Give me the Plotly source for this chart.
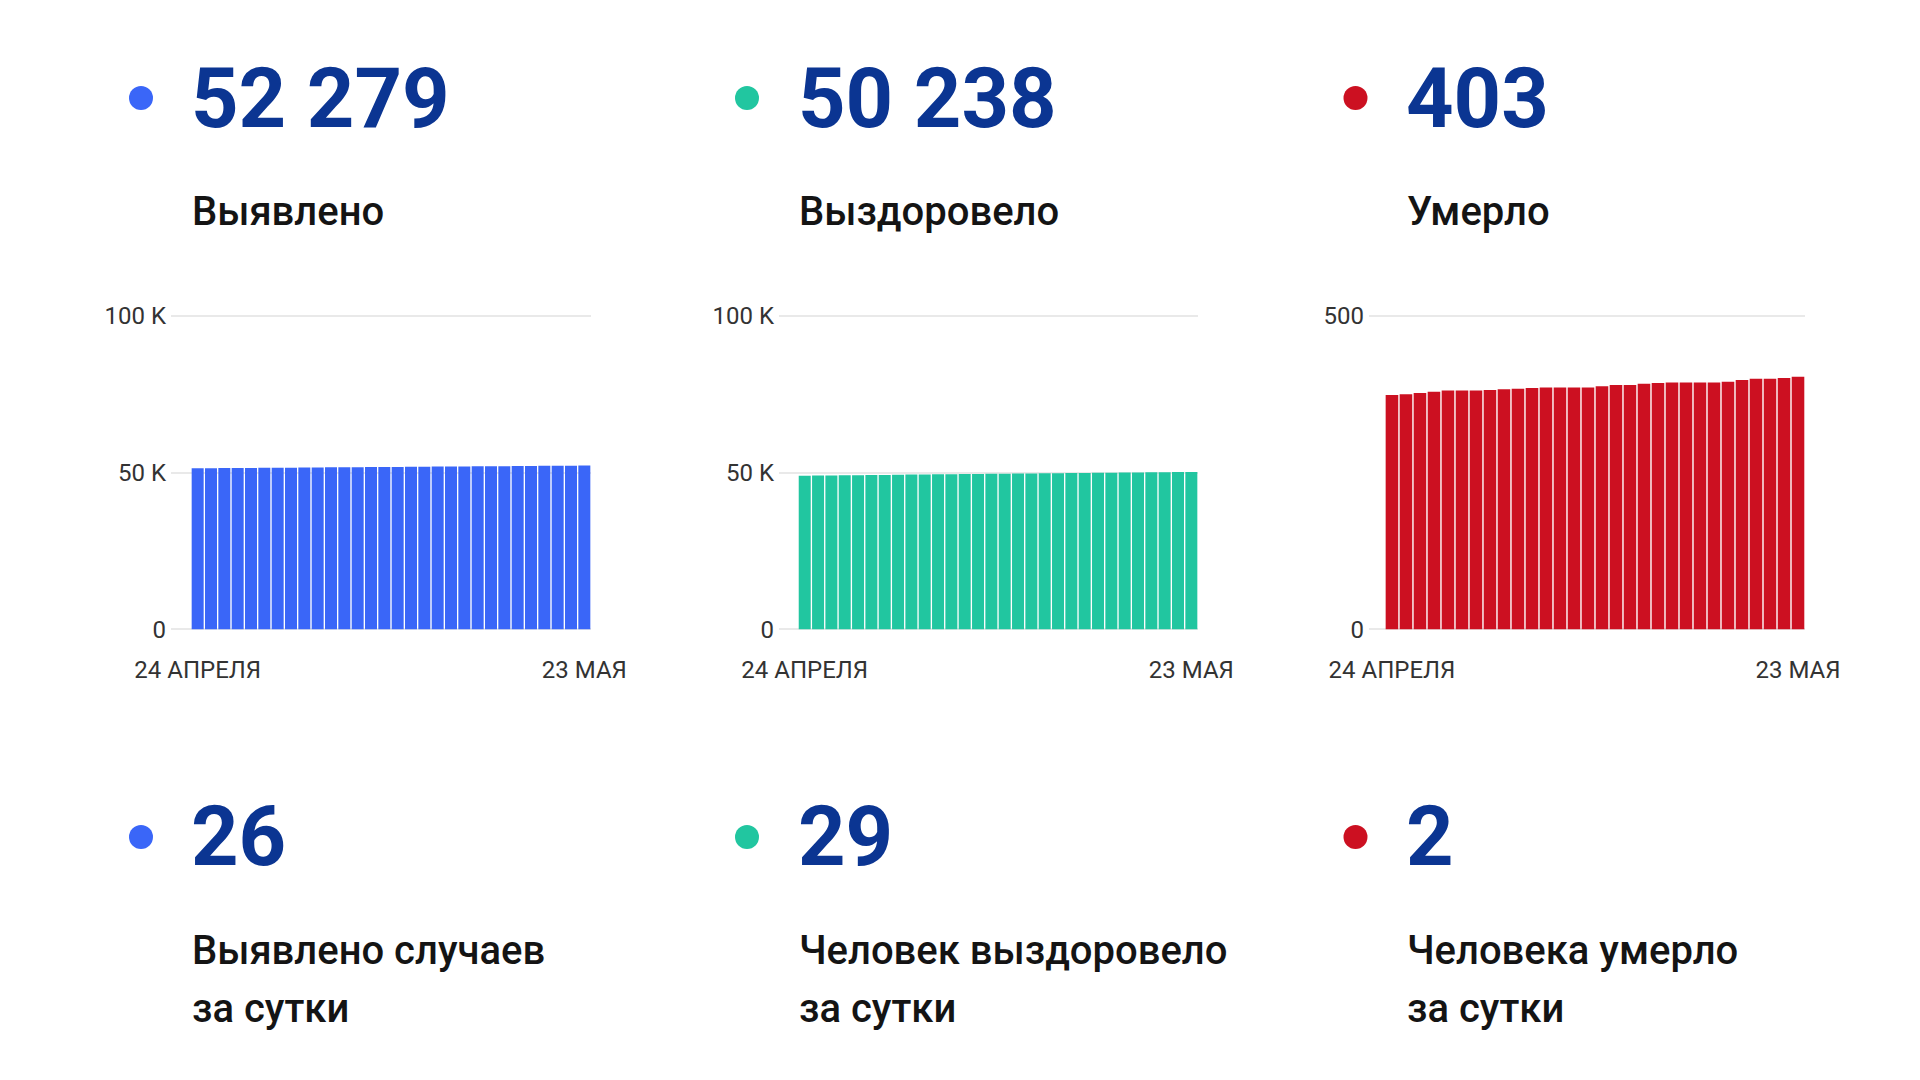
import plotly.graph_objects as go

# ---------------- data ----------------
days = [f"{d:02d}.04" for d in range(24, 31)] + [f"{d:02d}.05" for d in range(1, 24)]
tick_first, tick_last = "24 АПРЕЛЯ", "23 МАЯ"

detected = [51410, 51440, 51470, 51500, 51531, 51560, 51590, 51620, 51650, 51677,
            51707, 51738, 51768, 51797, 51828, 51857, 51887, 51916, 51948, 51978,
            52006, 52037, 52068, 52097, 52128, 52160, 52190, 52222, 52253, 52279]
recovered = [49060, 49101, 49142, 49183, 49224, 49265, 49306, 49347, 49388, 49429,
             49470, 49511, 49552, 49594, 49634, 49675, 49716, 49756, 49797, 49839,
             49880, 49920, 49962, 50003, 50044, 50085, 50128, 50170, 50209, 50238]
died = [374, 375, 377, 379, 381, 381, 381, 382, 383, 384,
        385, 386, 386, 386, 386, 388, 390, 390, 392, 393,
        394, 394, 394, 394, 395, 398, 400, 400, 401, 403]

totals = ["52 279", "50 238", "403"]
total_labels = ["Выявлено", "Выздоровело", "Умерло"]
daily = ["26", "29", "2"]
daily_line1 = ["Выявлено случаев", "Человек выздоровело", "Человека умерло"]
daily_line2 = ["за сутки", "за сутки", "за сутки"]

y_ticks_k = [0, 50000, 100000]
y_ticks_k_text = ["0", "50 K", "100 K"]
y_ticks_d = [0, 500]
y_ticks_d_text = ["0", "500"]

# ---------------- style ----------------
W, H = 1920, 1080
colors = ["#3A66F8", "#21C6A0", "#CC1021"]
NAVY = "#0B3592"
TXT = "#141414"
GRID = "#E9E9E9"
FONT = "Roboto"

def fx(x):
    return x / W

def fy(y):
    return 1 - y / H

plots = [
    dict(x0=171, x1=591, xr=[-2.0, 29.5]),
    dict(x0=779, x1=1198, xr=[-1.93, 29.5]),
    dict(x0=1369, x1=1805, xr=[-1.64, 29.5]),
]
y_top, y_bot = 316, 629.4
EXT = 1.01
y_dom_top = y_bot - (y_bot - y_top) * EXT

series = [detected, recovered, died]
fig = go.Figure()
layout = dict(
    template="none",
    width=W, height=H, margin=dict(l=0, r=0, t=0, b=0, pad=0, autoexpand=False),
    paper_bgcolor="white", plot_bgcolor="white",
    showlegend=False, bargap=0.1,
    font=dict(family=FONT, color="#333333", size=24),
)
for i, (vals, p) in enumerate(zip(series, plots)):
    sfx = "" if i == 0 else str(i + 1)
    fig.add_trace(go.Bar(
        x=days, y=vals, marker=dict(color=colors[i], line=dict(width=0)),
        xaxis="x" + sfx, yaxis="y" + sfx, hoverinfo="x+y",
    ))
    layout["xaxis" + sfx] = dict(
        domain=[fx(p["x0"]), fx(p["x1"])], anchor="y" + sfx, type="category",
        range=p["xr"], tickmode="array", tickvals=[days[0], days[-1]],
        ticktext=[tick_first, tick_last], showgrid=False, zeroline=False,
        showline=False, ticks="", ticklabelstandoff=24, automargin=False,
        tickfont=dict(family=FONT, size=24, color="#333333"),
    )
    if i < 2:
        tv, tt, yr = y_ticks_k, y_ticks_k_text, [0, 100000 * EXT]
    else:
        tv, tt, yr = y_ticks_d, y_ticks_d_text, [0, 500 * EXT]
    layout["yaxis" + sfx] = dict(
        domain=[fy(y_bot), fy(y_dom_top)], anchor="x" + sfx, range=yr,
        tickmode="array", tickvals=tv, ticktext=tt,
        showgrid=True, gridcolor=GRID, gridwidth=1.5,
        zeroline=True, zerolinecolor=GRID, zerolinewidth=1.5,
        showline=False, ticks="", ticklabelstandoff=4, automargin=False,
        tickfont=dict(family=FONT, size=24, color="#333333"),
    )
fig.update_layout(**layout)

col_text_x = [188, 795, 1403]
col_dot_x = [141, 747, 1355.5]
annotations = []
shapes = []
for i in range(3):
    annotations.append(dict(x=fx(col_text_x[i] + 1), y=fy(98), xref="paper", yref="paper",
                            text=f"<b>{totals[i]}</b>", showarrow=False, xanchor="left",
                            yanchor="middle", font=dict(family=FONT, size=83, color=NAVY)))
    annotations.append(dict(x=fx(col_text_x[i] + 2), y=fy(211), xref="paper", yref="paper",
                            text=total_labels[i], showarrow=False, xanchor="left",
                            yanchor="middle", font=dict(family=FONT, size=40, color=TXT, weight=500)))
    annotations.append(dict(x=fx(col_text_x[i] + 1), y=fy(836), xref="paper", yref="paper",
                            text=f"<b>{daily[i]}</b>", showarrow=False, xanchor="left",
                            yanchor="middle", font=dict(family=FONT, size=83, color=NAVY)))
    annotations.append(dict(x=fx(col_text_x[i] + 2), y=fy(950), xref="paper", yref="paper",
                            text=daily_line1[i], showarrow=False, xanchor="left",
                            yanchor="middle", font=dict(family=FONT, size=40, color=TXT, weight=500)))
    annotations.append(dict(x=fx(col_text_x[i] + 2), y=fy(1008), xref="paper", yref="paper",
                            text=daily_line2[i], showarrow=False, xanchor="left",
                            yanchor="middle", font=dict(family=FONT, size=40, color=TXT, weight=500)))
    r = 12
    for cy in (98, 837):
        shapes.append(dict(type="circle", xref="paper", yref="paper",
                           x0=fx(col_dot_x[i] - r), x1=fx(col_dot_x[i] + r),
                           y0=fy(cy + r), y1=fy(cy - r),
                           fillcolor=colors[i], line=dict(width=0)))
fig.update_layout(annotations=annotations, shapes=shapes)

fig.write_html("out.html", config={"displayModeBar": False},
               post_script="document.body.style.margin='0';document.body.style.overflow='hidden';")
